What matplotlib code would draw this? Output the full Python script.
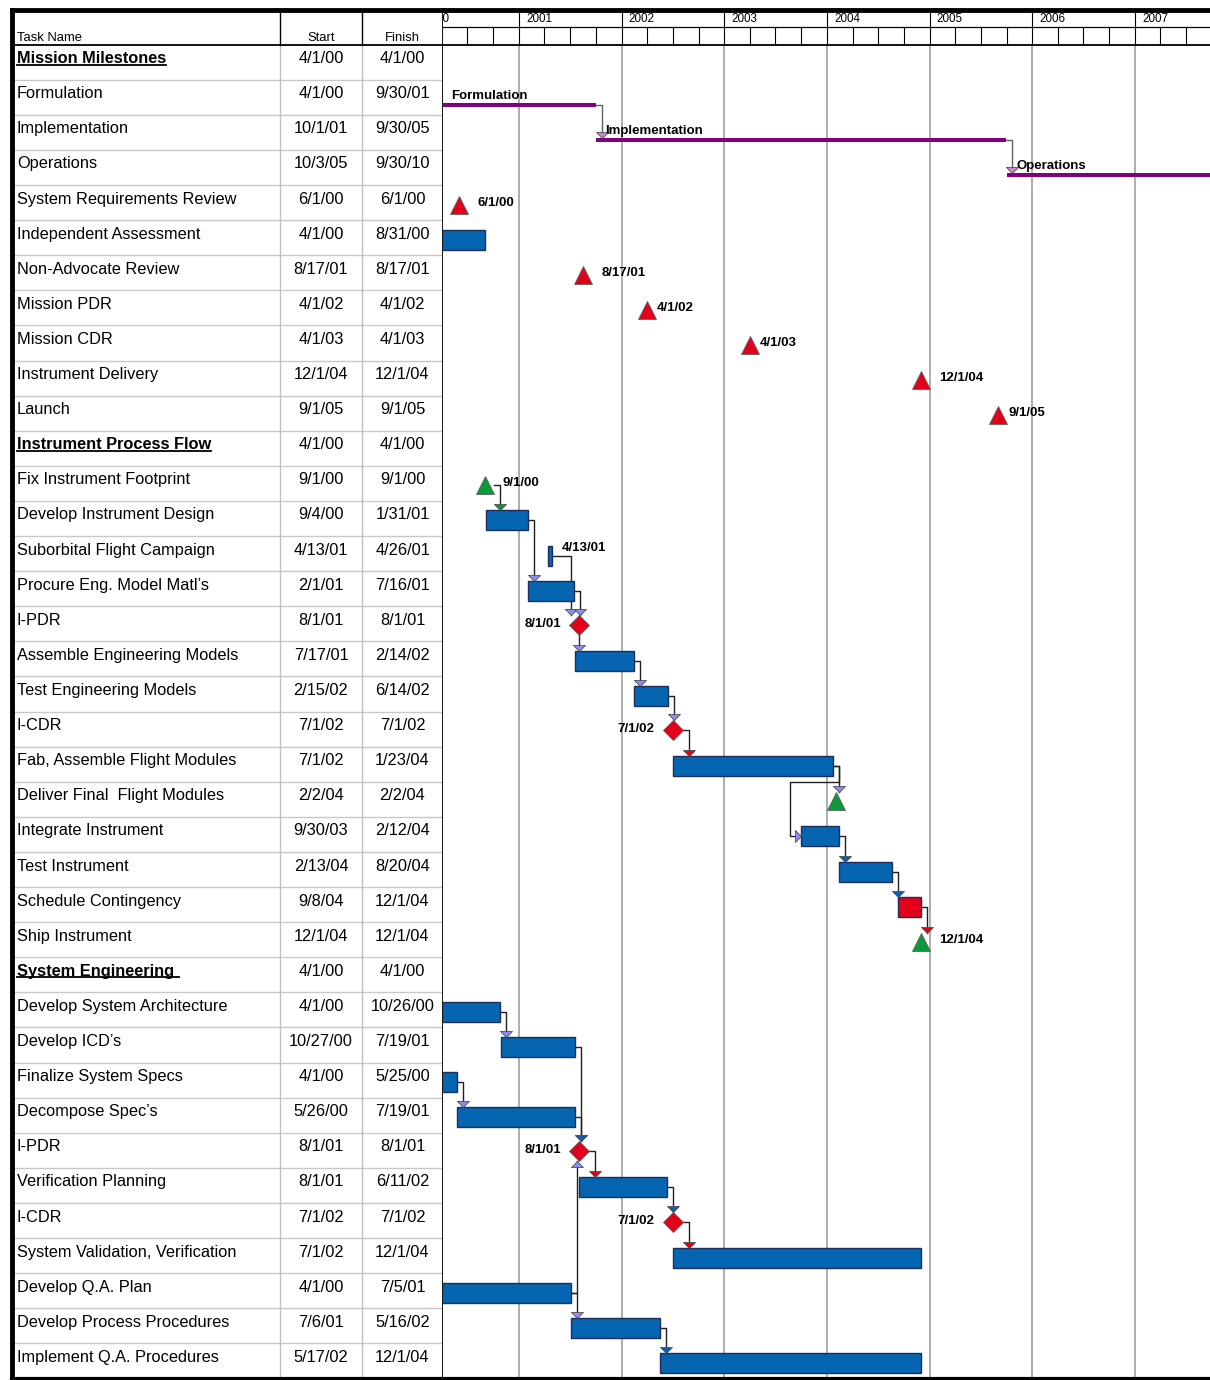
import matplotlib
matplotlib.use("Agg")
from datetime import datetime

import matplotlib.dates as mdates
import matplotlib.pyplot as plt

plt.rcParams['font.family'] = ['Liberation Sans', 'DejaVu Sans']

task_names = [
    "Mission Milestones", "Formulation", "Implementation", "Operations",
    "System Requirements Review", "Independent Assessment", "Non-Advocate Review",
    "Mission PDR", "Mission CDR", "Instrument Delivery", "Launch",
    "Instrument Process Flow", "Fix Instrument Footprint", "Develop Instrument Design",
    "Suborbital Flight Campaign", "Procure Eng. Model Matl\u2019s", "I-PDR",
    "Assemble Engineering Models", "Test Engineering Models", "I-CDR",
    "Fab, Assemble Flight Modules", "Deliver Final  Flight Modules",
    "Integrate Instrument", "Test Instrument", "Schedule Contingency",
    "Ship Instrument", "System Engineering ", "Develop System Architecture",
    "Develop ICD\u2019s", "Finalize System Specs", "Decompose Spec\u2019s", "I-PDR",
    "Verification Planning", "I-CDR", "System Validation, Verification",
    "Develop Q.A. Plan", "Develop Process Procedures", "Implement Q.A. Procedures",
]
start_dates = [
    "4/1/00", "4/1/00", "10/1/01", "10/3/05", "6/1/00", "4/1/00", "8/17/01",
    "4/1/02", "4/1/03", "12/1/04", "9/1/05", "4/1/00", "9/1/00", "9/4/00",
    "4/13/01", "2/1/01", "8/1/01", "7/17/01", "2/15/02", "7/1/02", "7/1/02",
    "2/2/04", "9/30/03", "2/13/04", "9/8/04", "12/1/04", "4/1/00", "4/1/00",
    "10/27/00", "4/1/00", "5/26/00", "8/1/01", "8/1/01", "7/1/02", "7/1/02",
    "4/1/00", "7/6/01", "5/17/02",
]
finish_dates = [
    "4/1/00", "9/30/01", "9/30/05", "9/30/10", "6/1/00", "8/31/00", "8/17/01",
    "4/1/02", "4/1/03", "12/1/04", "9/1/05", "4/1/00", "9/1/00", "1/31/01",
    "4/26/01", "7/16/01", "8/1/01", "2/14/02", "6/14/02", "7/1/02", "1/23/04",
    "2/2/04", "2/12/04", "8/20/04", "12/1/04", "12/1/04", "4/1/00", "10/26/00",
    "7/19/01", "5/25/00", "7/19/01", "8/1/01", "6/11/02", "7/1/02", "12/1/04",
    "7/5/01", "5/16/02", "12/1/04",
]
task_kinds = [
    "head", "phase", "phase", "phase", "red_tri", "bar", "red_tri",
    "red_tri", "red_tri", "red_tri", "red_tri", "head", "green_tri", "bar",
    "bar", "bar", "diamond", "bar", "bar", "diamond", "bar",
    "green_tri", "bar", "bar", "red_bar", "green_tri", "head", "bar",
    "bar", "bar", "bar", "diamond", "bar", "diamond", "bar",
    "bar", "bar", "bar",
]
# which side of the mark its date / name label goes
label_sides = [
    "", "above", "above", "above", "right", "", "right",
    "right", "right", "right", "right", "", "right", "",
    "right", "", "left", "", "", "left", "",
    "", "", "", "", "right", "", "",
    "", "", "", "left", "", "left", "",
    "", "", "",
]
# (predecessor, successor, arrow tone, route)
task_links = [
    (1, 2, "pink", "fs"), (2, 3, "pink", "fs"),
    (12, 13, "green", "fs"), (13, 15, "lilac", "fs"), (14, 16, "lilac", "lane"),
    (15, 16, "lilac", "fs"), (16, 17, "lilac", "drop"), (17, 18, "lilac", "fs"),
    (18, 19, "lilac", "fs"), (19, 20, "red", "fs"), (20, 21, "lilac", "fs"),
    (20, 22, "lilac", "back"), (22, 23, "blue", "fs"), (23, 24, "blue", "fs"),
    (24, 25, "red", "fs"),
    (27, 28, "lilac", "fs"), (28, 31, "blue", "fs"), (29, 30, "lilac", "fs"),
    (30, 31, "blue", "fs"), (31, 32, "red", "fs"), (32, 33, "blue", "fs"),
    (33, 34, "red", "fs"), (35, 31, "lilac", "up"), (35, 36, "lilac", "fs"),
    (36, 37, "blue", "fs"),
]
year_ticks = list(range(2000, 2008))

BLUE = "#0565b0"
RED = "#e2001a"
GREEN = "#0b9a3a"
PURPLE = "#800080"
ARROW_COLORS = {"lilac": "#8c8cf2", "blue": "#0a5fae", "red": RED,
                "green": GREEN, "pink": "#cc88cc"}
MARK_COLORS = {"red_tri": RED, "green_tri": GREEN, "diamond": RED}
# milestone labels that sit right against their marker
TIGHT_LABELS = {7, 8, 10}

W, H = 1210, 1380
TOP_PX, BOTTOM_PX = 9.5, 1378.5
LEFT_PX, SPLIT_PX = 12, 443
DAYS_PER_PX = 365.25 / 102.67

n = len(task_names)
ROW_PX = (BOTTOM_PX - TOP_PX) / (n + 1)


def to_num(s):
    m, d, y = (int(v) for v in s.split("/"))
    return mdates.date2num(datetime(2000 + y, m, d))


def dx(px):
    return px * DAYS_PER_PX


def dy(px):
    return px / ROW_PX


def rect(x0, x1):
    return [x0 / W, 1 - BOTTOM_PX / H, (x1 - x0) / W, (BOTTOM_PX - TOP_PX) / H]


x_start = [to_num(s) for s in start_dates]
x_finish = [to_num(s) for s in finish_dates]

fig = plt.figure(figsize=(12.1, 13.8), dpi=100)
ax_tab = fig.add_axes(rect(LEFT_PX, SPLIT_PX))
ax = fig.add_axes(rect(SPLIT_PX, W))

# ---- left table ----
tab_w = SPLIT_PX - LEFT_PX
col_edges = [268, 350]
col_mid = [309, 390.5]
ax_tab.set_xlim(0, tab_w)
ax_tab.set_ylim(n, -1)
ax_tab.set_xticks([])
ax_tab.set_yticks([])
for side, lw in (("left", 3.5), ("top", 3.5), ("bottom", 3), ("right", 2)):
    ax_tab.spines[side].set_linewidth(lw)

for r in range(1, n):
    ax_tab.plot([0, tab_w], [r, r], color="#c8c8c8", lw=1, zorder=1)
for xc in col_edges:
    ax_tab.plot([xc, xc], [-1, 0], color="black", lw=1, zorder=2)
    ax_tab.plot([xc, xc], [0, n], color="#c0c0c0", lw=1, zorder=1)
ax_tab.plot([0, tab_w], [0, 0], color="black", lw=1.3, zorder=2)

ax_tab.text(5, -0.2, "Task Name", fontsize=9.4, va="center")
ax_tab.text(col_mid[0], -0.2, "Start", fontsize=9.4, va="center", ha="center")
ax_tab.text(col_mid[1], -0.2, "Finish", fontsize=9.4, va="center", ha="center")

heading_texts = []
for r, name in enumerate(task_names):
    is_head = task_kinds[r] == "head"
    t = ax_tab.text(5, r + 0.4, name, fontsize=11.8, va="center",
                    fontweight="bold" if is_head else "normal")
    if is_head:
        heading_texts.append(t)
    ax_tab.text(col_mid[0], r + 0.4, start_dates[r], fontsize=11.8,
                va="center", ha="center")
    ax_tab.text(col_mid[1], r + 0.4, finish_dates[r], fontsize=11.8,
                va="center", ha="center")

# ---- timescale ----
x0 = mdates.date2num(datetime(2000, 4, 5))
ax.set_xlim(x0, x0 + dx(W - SPLIT_PX))
ax.set_ylim(n, -1)
ax.set_xticks([])
ax.set_yticks([])
ax.spines["top"].set_linewidth(3.5)
ax.spines["bottom"].set_linewidth(3)
ax.spines["left"].set_visible(False)
ax.spines["right"].set_visible(False)

year_split = -1 + dy(17.5)
for yr in year_ticks:
    xv = mdates.date2num(datetime(yr, 1, 1))
    ax.plot([xv, xv], [-1, 0], color="black", lw=0.8, zorder=2)
    ax.plot([xv, xv], [0, n], color="#a0a0a0", lw=1.2, zorder=1)
    ax.text(xv + dx(7), (year_split - 1) / 2 + 0.02, str(yr), fontsize=8.4,
            va="center", clip_on=True)
    for m in (4, 7, 10):
        xq = mdates.date2num(datetime(yr, m, 1))
        ax.plot([xq, xq], [year_split, 0], color="black", lw=0.8, zorder=2)
ax.plot([x0, x0 + dx(W)], [year_split, year_split], color="black", lw=0.9)
ax.plot([x0, x0 + dx(W)], [0, 0], color="black", lw=1.3)


def mark_center(r):
    off = {"phase": 8, "diamond": 1}.get(task_kinds[r], 2)
    return r + 0.5 + dy(off)


def right_edge(r):
    k = task_kinds[r]
    if k in ("bar", "red_bar", "phase"):
        return x_finish[r]
    return x_start[r] + dx(10 if k == "diamond" else 9)


def top_edge(r):
    half = {"bar": 10, "red_bar": 10, "phase": 2, "diamond": 10}
    return mark_center(r) - dy(half.get(task_kinds[r], 9))


def bottom_edge(r):
    return mark_center(r) + dy(10)


# ---- task marks ----
for r, k in enumerate(task_kinds):
    yc = mark_center(r)
    if k in ("bar", "red_bar"):
        ax.barh(yc, x_finish[r] - x_start[r], left=x_start[r], height=dy(20),
                color=BLUE if k == "bar" else RED, edgecolor="#1f2d5c",
                lw=1, zorder=3)
    elif k == "phase":
        ax.barh(yc, x_finish[r] - x_start[r], left=x_start[r], height=dy(4),
                color=PURPLE, lw=0, zorder=3)
    elif k in ("red_tri", "green_tri"):
        ax.plot(x_start[r], yc, marker="^", ms=13, mfc=MARK_COLORS[k],
                mec="#606060", mew=0.6, zorder=4)
    elif k == "diamond":
        ax.plot(x_start[r], yc, marker="D", ms=10.2, mfc=RED,
                mec="#606060", mew=0.6, zorder=4)

lbl = dict(fontsize=9.5, fontweight="bold", zorder=6, clip_on=True)
for r, side in enumerate(label_sides):
    yc = mark_center(r)
    k = task_kinds[r]
    if side == "above":
        ax.text(x_start[r] + dx(9), yc - dy(3), task_names[r], va="bottom", **lbl)
    elif side == "right":
        if k == "bar":
            ax.text(right_edge(r) + dx(10), yc - dy(8), start_dates[r],
                    va="center", **lbl)
        else:
            gap = 1 if r in TIGHT_LABELS else 9
            ax.text(right_edge(r) + dx(gap), yc - dy(2), start_dates[r],
                    va="center", **lbl)
    elif side == "left":
        ax.text(x_start[r] - dx(18), yc - dy(1), start_dates[r], va="center",
                ha="right", **lbl)

# ---- dependency links ----
arrow_down = [(-1, 1), (1, 1), (0, 0), (-1, 1)]
arrow_up = [(-1, -1), (1, -1), (0, 0), (-1, -1)]
arrow_right = [(-1, 1), (-1, -1), (0, 0), (-1, 1)]


def arrowhead(x, y, shape, tone):
    ax.plot(x, y, marker=shape, ms=8.6, mfc=ARROW_COLORS[tone], mec="#505050",
            mew=0.6, ls="none", zorder=5)


for pred, succ, tone, route in task_links:
    ex, ey = right_edge(pred), mark_center(pred)
    line_col = "#606060" if task_kinds[pred] == "phase" else "#202020"
    line = dict(color=line_col, lw=1, zorder=2)
    if route == "drop":
        xv = x_start[pred]
        ax.plot([xv, xv], [bottom_edge(pred), top_edge(succ)], **line)
        arrowhead(xv, top_edge(succ), arrow_down, tone)
    elif route == "up":
        xv = ex + dx(6)
        ax.plot([ex, xv, xv], [ey, ey, bottom_edge(succ)], **line)
        arrowhead(xv, bottom_edge(succ), arrow_up, tone)
    elif route == "back":
        xv = ex + dx(6)
        yb = pred + 1
        xb = x_start[succ] - dx(11)
        ys = mark_center(succ)
        ax.plot([ex, xv, xv, xb, xb, x_start[succ]],
                [ey, ey, yb, yb, ys, ys], **line)
        arrowhead(x_start[succ], ys, arrow_right, tone)
    else:
        xv = max(ex + dx(6), x_start[succ])
        if route == "lane":
            xv = x_start[succ] - dx(8)
        ax.plot([ex, xv, xv], [ey, ey, top_edge(succ)], **line)
        arrowhead(xv, top_edge(succ), arrow_down, tone)

# underline the section headings
fig.canvas.draw()
renderer = fig.canvas.get_renderer()
inv = ax_tab.transData.inverted()
for t in heading_texts:
    bb = t.get_window_extent(renderer)
    (ux0, uy), (ux1, _) = inv.transform([(bb.x0, bb.y0 + 1.5), (bb.x1, bb.y0 + 1.5)])
    ax_tab.plot([ux0, ux1], [uy, uy], color="black", lw=1.3, zorder=3)

fig.savefig("out.png", dpi=100)
